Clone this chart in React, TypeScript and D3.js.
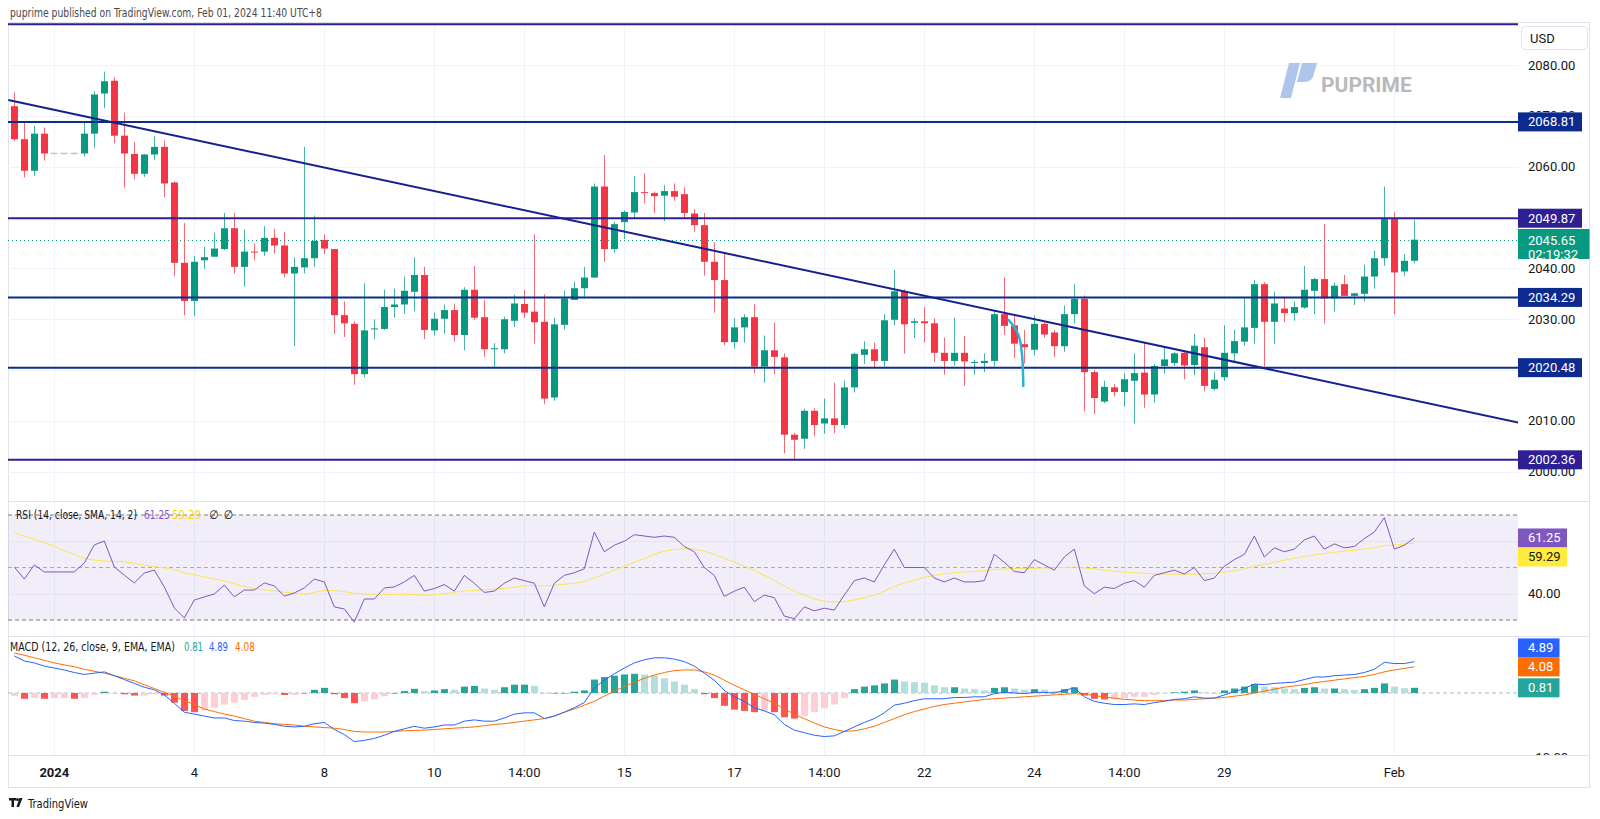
import React from 'react';
import * as d3 from 'd3';

// ---------- DATA (4H XAUUSD bars) ----------
const opens = [
2071.9,2065.4,2059.2,2066.5,2062.6,2062.6,2062.6,2062.6,2066.5,2074.4,
2076.9,2066.1,2062.5,2058.6,2062.4,2063.9,2056.9,2041.1,2033.6,2041.6,
2042.3,2043.8,2047.9,2040.3,2043.3,2043.3,2046.0,2044.5,2039.0,2040.2,
2042.0,2045.6,2043.8,2030.8,2029.1,2019.2,2028.1,2028.1,2032.4,2032.9,
2035.4,2038.7,2027.8,2030.1,2031.8,2026.9,2035.8,2030.4,2024.2,2024.1,
2029.7,2033.0,2031.5,2029.5,2014.6,2028.9,2033.8,2036.1,2038.2,2056.1,
2043.8,2049.1,2051.0,2055.0,2054.8,2054.3,2055.2,2054.6,2050.8,2048.5,
2041.3,2037.7,2025.5,2028.4,2030.4,2020.7,2023.9,2022.5,2007.3,2006.5,
2012.0,2009.5,2010.5,2009.2,2016.6,2023.0,2024.1,2021.8,2029.9,2035.5,
2029.3,2029.6,2029.2,2023.4,2021.8,2023.4,2021.4,2021.4,2021.8,2031.0,
2028.8,2025.1,2024.0,2029.1,2027.4,2024.7,2031.0,2034.0,2019.6,2013.8,
2016.6,2015.7,2017.9,2019.5,2015.2,2020.8,2021.4,2023.4,2021.0,2024.5,
2016.3,2018.6,2023.3,2025.6,2028.3,2036.9,2029.5,2032.1,2031.2,2032.3,
2035.6,2037.9,2034.1,2036.9,2034.6,2035.0,2038.4,2042.0,2049.7,2039.4,
2041.5];
const highs = [
2074.6,2068.8,2068.0,2067.7,2062.6,2062.6,2062.6,2068.9,2074.8,2078.7,
2077.6,2070.6,2064.9,2062.5,2066.0,2065.2,2057.1,2048.9,2042.5,2044.3,
2047.0,2050.9,2050.9,2047.7,2044.9,2048.3,2047.8,2047.2,2042.2,2063.9,
2050.4,2046.7,2043.8,2033.5,2029.6,2037.1,2030.0,2035.8,2036.0,2038.4,
2042.2,2040.3,2031.3,2032.9,2033.1,2036.3,2040.5,2033.8,2025.3,2030.5,
2034.8,2035.8,2046.7,2034.9,2030.3,2035.6,2037.4,2040.3,2056.7,2062.3,
2049.2,2051.4,2058.2,2058.7,2055.1,2056.4,2056.7,2055.9,2051.7,2050.9,
2045.1,2042.9,2030.2,2031.0,2033.0,2026.8,2029.3,2023.3,2007.6,2012.4,
2012.5,2014.4,2017.5,2018.0,2023.4,2025.7,2025.4,2031.0,2039.7,2035.9,
2030.2,2032.4,2030.2,2026.4,2030.3,2026.7,2022.0,2023.3,2031.8,2038.2,
2030.8,2027.9,2030.8,2029.7,2027.9,2032.7,2036.9,2034.7,2020.0,2017.9,
2017.3,2019.4,2023.3,2025.4,2021.2,2024.5,2023.6,2023.7,2027.1,2026.4,
2019.6,2028.8,2027.9,2034.1,2037.7,2037.3,2035.4,2034.2,2033.5,2040.5,
2038.2,2048.7,2037.2,2038.7,2035.2,2040.7,2043.5,2056.1,2051.0,2042.8,
2049.5];
const lows = [
2065.1,2057.9,2058.2,2061.2,2062.6,2062.6,2062.6,2062.0,2063.7,2071.5,
2064.6,2055.9,2057.5,2058.0,2061.3,2054.0,2038.5,2030.8,2030.6,2039.9,
2042.3,2043.6,2039.0,2036.4,2041.6,2042.5,2042.9,2038.2,2024.7,2039.0,
2040.3,2042.8,2027.1,2026.5,2017.1,2018.6,2026.1,2027.9,2030.3,2031.1,
2031.6,2026.1,2026.8,2027.2,2025.6,2023.9,2029.9,2022.6,2020.5,2023.3,
2028.5,2030.3,2025.2,2013.3,2014.0,2028.0,2033.8,2034.1,2038.2,2041.3,
2043.1,2045.8,2049.7,2052.8,2050.9,2049.3,2053.3,2049.7,2047.2,2038.6,
2031.3,2024.9,2024.2,2025.4,2019.4,2017.5,2019.2,2003.6,2002.3,2004.5,
2007.0,2007.5,2007.6,2008.5,2015.6,2021.2,2020.4,2020.7,2028.8,2023.2,
2026.3,2025.4,2021.6,2019.1,2020.9,2016.9,2019.1,2019.6,2020.7,2026.9,
2022.3,2021.3,2022.9,2026.4,2022.6,2023.6,2029.2,2011.9,2011.4,2013.5,
2014.8,2012.8,2009.5,2012.6,2013.6,2019.3,2020.8,2018.2,2019.0,2015.9,
2016.0,2017.9,2021.5,2024.8,2025.2,2020.7,2025.1,2029.4,2029.7,2032.1,
2031.0,2029.1,2031.5,2034.6,2032.8,2033.5,2036.0,2040.5,2031.0,2038.5,
2041.0];
const closes = [
2065.4,2059.2,2066.5,2062.6,2062.6,2062.6,2062.6,2066.5,2074.2,2076.8,
2066.1,2062.6,2058.6,2062.4,2063.9,2056.7,2041.1,2033.6,2041.3,2042.2,
2043.9,2047.9,2040.3,2043.3,2043.2,2046.0,2044.5,2039.0,2040.3,2042.0,
2045.4,2043.9,2030.8,2029.2,2019.2,2027.8,2028.2,2032.4,2032.9,2035.6,
2038.7,2027.9,2030.1,2031.8,2026.9,2035.8,2030.3,2024.1,2024.3,2030.0,
2033.1,2031.3,2029.4,2014.4,2029.0,2034.1,2036.1,2038.2,2056.1,2043.8,
2048.7,2051.1,2055.0,2054.9,2054.2,2055.2,2054.1,2050.9,2048.5,2041.3,
2037.7,2025.5,2028.4,2030.4,2020.7,2023.9,2022.6,2007.3,2006.3,2012.0,
2009.2,2010.5,2009.2,2016.6,2023.2,2024.1,2021.8,2029.8,2035.5,2029.0,
2029.6,2029.2,2023.4,2021.8,2023.4,2021.7,2021.6,2021.8,2031.0,2028.7,
2025.2,2024.5,2029.1,2027.0,2024.7,2031.0,2034.0,2019.6,2014.5,2016.7,
2015.7,2018.2,2019.4,2015.2,2020.8,2022.1,2023.3,2020.9,2024.8,2016.9,
2018.1,2023.4,2025.7,2028.4,2036.9,2029.5,2033.1,2031.2,2032.4,2035.8,
2037.9,2034.1,2036.6,2034.6,2035.1,2038.4,2042.0,2049.7,2039.2,2041.5,
2045.65];

const rsi = [
50.2,45.6,51.0,48.3,48.3,48.3,48.3,51.7,58.6,60.1,
50.2,47.1,44.1,47.9,49.0,42.6,34.6,30.8,37.6,38.8,
39.9,43.3,38.8,41.4,41.4,44.1,43.0,39.1,40.3,42.2,
45.6,44.5,35.0,34.2,29.2,38.0,38.0,42.2,42.6,44.5,
47,41,42,43.5,41,47,44,40.5,41,44,
46,45,44,35,44,47,48,49.5,63.5,56,
58.5,60,62.5,62,61.5,62,61.5,58,56,50,
47,39,41,42.5,37,39.5,38.5,31.5,30.5,35,
33.5,34.5,33.8,39.5,45,46,44.5,51,57,50,
50,50,46,44.5,46,44.5,44.5,45,55,52,
48.5,48,53,51,49,54,57,43,40,42.5,
42,44,45,42.5,47,48,49,47.5,50,45,
46,50.5,53,55,62,54,57.5,56,57,60.5,
62,57,59,57.5,58,61,63.5,69,57,58.5,
61.25];
const rsiSma = [
63.3,62,60.8,59.5,58.0,56.4,55,53.5,52.8,52.5,
52.3,52.2,51.6,50.8,50.3,49.9,49.2,48.0,47.2,46.5,
45.6,45.0,43.8,42.8,42.0,41.5,41.0,40.6,40.2,39.8,
40.5,41.3,41.2,40.8,40.2,39.9,39.8,39.8,39.7,39.8,
39.7,39.5,39.6,40.0,40.6,41.0,41.3,41.5,41.7,42.0,
42.5,43.0,43.2,43.0,43.3,43.6,44.0,44.6,46.0,47.5,
49.0,50.5,52.0,53.5,55.0,56.2,56.8,57.2,57.0,56.2,
55.0,53.5,52.0,50.5,48.8,47.0,45.0,43.0,41.0,39.5,
38.0,37.2,36.8,37.0,37.6,38.5,39.5,41.0,42.8,44.0,
45.2,46.2,47.0,47.6,48.0,48.3,48.5,48.8,49.2,49.5,
49.6,49.6,49.7,49.8,49.9,50.0,50.2,49.8,49.5,49.0,
48.6,48.3,48.0,47.8,47.6,47.5,47.5,47.4,47.5,47.6,
47.8,48.2,48.8,49.5,50.5,51.2,52.0,52.8,53.5,54.2,
54.8,55.3,55.8,56.2,56.6,57.0,57.5,58.3,58.6,58.9,
59.29];

const macd = [
5.8,5.0,4.7,4.2,3.9,3.6,3.2,2.9,3.1,3.3,
2.7,2.1,1.5,0.9,0.5,-0.3,-1.6,-3.0,-3.3,-3.6,
-3.9,-3.9,-4.3,-4.4,-4.6,-4.7,-4.9,-5.2,-5.3,-5.2,
-4.8,-4.6,-5.7,-6.5,-7.6,-7.4,-7.1,-6.6,-6.0,-5.6,
-5.2,-5.5,-5.3,-5.0,-5.0,-4.4,-4.2,-4.4,-4.4,-3.9,
-3.3,-3.1,-3.1,-4.0,-3.6,-3.0,-2.3,-1.5,0.8,2.0,
3.0,3.9,4.7,5.2,5.5,5.5,5.3,4.9,4.2,3.1,
2.0,0.4,-0.6,-1.3,-2.3,-2.8,-3.4,-4.9,-5.8,-6.2,
-6.6,-6.8,-6.7,-6.0,-5.3,-4.6,-4.0,-3.1,-1.9,-1.6,
-1.2,-0.9,-0.9,-0.9,-0.7,-0.7,-0.6,-0.6,-0.1,0.1,
0.0,-0.1,0.1,0.1,0.0,0.4,0.8,-0.6,-1.3,-1.6,
-1.8,-1.8,-1.7,-1.8,-1.5,-1.3,-1.0,-0.9,-0.6,-0.8,
-0.8,-0.3,0.2,0.7,1.4,1.3,1.5,1.6,1.7,2.1,
2.5,2.5,2.7,2.8,2.9,3.2,3.7,4.8,4.6,4.6,
4.89];
const signal = [
6.25,5.9,5.5,5.1,4.7,4.4,4.1,3.7,3.4,3.1,
2.7,2.3,1.9,1.3,0.7,0.1,-0.5,-1.2,-1.8,-2.5,
-2.9,-3.3,-3.6,-4.0,-4.4,-4.6,-4.8,-4.9,-5.0,-5.2,
-5.3,-5.4,-5.5,-5.7,-6.0,-6.1,-6.1,-6.1,-6.0,-5.9,
-5.85,-5.8,-5.7,-5.6,-5.5,-5.4,-5.3,-5.1,-4.9,-4.8,
-4.6,-4.4,-4.2,-4.0,-3.6,-3.0,-2.5,-1.9,-1.3,-0.5,
0.3,1.0,1.7,2.3,2.8,3.2,3.5,3.6,3.6,3.3,
2.8,2.0,1.2,0.5,-0.2,-0.9,-1.6,-2.5,-3.3,-4.0,
-4.7,-5.3,-5.7,-6.0,-5.9,-5.6,-5.2,-4.6,-4.0,-3.4,
-2.9,-2.5,-2.1,-1.8,-1.6,-1.4,-1.2,-1.0,-0.9,-0.8,
-0.7,-0.6,-0.5,-0.4,-0.3,-0.2,-0.1,-0.2,-0.4,-0.6,
-0.8,-1.0,-1.1,-1.2,-1.2,-1.2,-1.1,-1.1,-1.0,-0.9,
-0.8,-0.7,-0.5,-0.3,0.0,0.3,0.6,0.9,1.1,1.3,
1.6,1.8,2.0,2.2,2.4,2.6,2.9,3.3,3.6,3.85,
4.08];
const hist = [
-0.45,-0.9,-0.8,-0.9,-0.8,-0.8,-0.9,-0.8,-0.3,0.2,
0.0,-0.2,-0.4,-0.4,-0.2,-0.4,-1.5,-2.8,-3.0,-2.7,
-2.3,-1.8,-1.5,-1.1,-0.6,-0.3,-0.2,-0.3,-0.3,0.0,
0.5,0.8,-0.2,-0.8,-1.6,-1.3,-1.0,-0.5,0.0,0.3,
0.65,0.3,0.4,0.6,0.5,1.0,1.1,0.7,0.5,0.9,
1.3,1.3,1.1,0.0,0.0,0.0,0.2,0.4,2.1,2.5,
2.7,2.9,3.0,2.9,2.7,2.3,1.8,1.3,0.6,-0.2,
-0.8,-2.0,-2.6,-2.8,-3.0,-2.8,-3.0,-3.8,-4.0,-3.6,
-3.0,-2.4,-1.8,-0.8,0.6,1.0,1.2,1.5,2.1,1.8,
1.7,1.6,1.2,0.9,0.9,0.7,0.6,0.4,0.8,0.9,
0.7,0.5,0.6,0.5,0.3,0.6,0.9,-0.4,-0.9,-1.0,
-1.0,-0.8,-0.6,-0.6,-0.3,-0.1,0.1,0.2,0.4,0.1,
0.0,0.4,0.7,1.0,1.4,1.0,0.9,0.7,0.6,0.8,
0.9,0.7,0.7,0.6,0.5,0.6,0.8,1.5,1.0,0.75,
0.81];

// time axis ticks (bar index -> label)
const tickIdx = [4, 18, 31, 42, 51, 61, 72, 81, 91, 102, 111, 121, 138];
const tickLabels = ['2024', '4', '8', '10', '14:00', '15', '17', '14:00', '22', '24', '14:00', '29', 'Feb'];
const boldTicks = ['2024'];

// price scale: grid levels and the labels left visible
const priceTicks = [2080, 2070, 2060, 2050, 2040, 2030, 2020, 2010, 2000];
const priceLabelTicks = [2080, 2060, 2040, 2030, 2010, 2000];
const partlyHiddenTicks = [2070];
const rsiTicks = [60, 40];
const rsiLabelTicks = [40];
const macdLabelTicks = [-10];

// drawn horizontal levels
const levels = [2088.0, 2068.81, 2049.87, 2034.29, 2020.48, 2002.36];
const levelLabelled = [false, true, true, true, true, true];
const levelTone = ['violet', 'navy', 'violet', 'navy', 'navy', 'violet'];

// drawn trend line: [bar index, price]
const trendStart = [-0.6, 2073.1];
const trendEnd = [150.4, 2009.7];

// cyan curve annotation: [bar index, price]
const curvePts = [[99.4, 2029.9], [100.8, 2026.9], [100.9, 2016.9]];

const lastPrice = 2045.65;
const countdown = '02:19:32';
const rsiLast = 61.25, smaLast = 59.29;
const macdLast = 4.89, signalLast = 4.08, histLast = 0.81;

// ---------- RENDER ----------
const UP = '#089981';
const DOWN = '#f23645';
const FONT = "Roboto, 'Noto Sans', Arial, sans-serif";
const NARROW = "'Liberation Sans Narrow', 'Arial Narrow', 'DejaVu Sans Condensed', Roboto, sans-serif";
const TONE: Record<string, string> = { navy: '#0d2b8e', violet: '#2e1f92' };

export default function App() {
  const L = 8, R = 1518;
  const x = d3.scaleLinear().domain([0, 140]).range([14.3, 1414.3]);
  const yP = d3.scaleLinear().domain([2000, 2080]).range([471.8, 65]);
  const yR = d3.scaleLinear().domain([30, 70]).range([620, 515]);
  const yM = d3.scaleLinear().domain([-10, 0]).range([757, 693]);
  const idx = d3.range(opens.length);

  const rsiLine = d3.line<number>().x((_, i) => x(i)).y(d => yR(d));
  const macdLine = d3.line<number>().x((_, i) => x(i)).y(d => yM(d));
  const curve = d3.line<number[]>().x(d => x(d[0])).y(d => yP(d[1])).curve(d3.curveBasis);

  const boxW = (s: string) => 7.5 * s.length + 11.5;
  const axisText = { fontFamily: FONT, fontSize: 13, fill: '#131722' };
  const legText = { fontFamily: NARROW, fontSize: 12, fill: '#131722' };
  const fit = { lengthAdjust: 'spacingAndGlyphs' } as any;

  const priceBox = (cy: number, fill: string, txt: string, tc = '#fff', key?: string) => (
    <g key={key}>
      <rect x={R} y={cy - 9.5} width={boxW(txt)} height={19} fill={fill} />
      <text x={R + 10} y={cy} dominantBaseline="central" style={{ ...axisText, fill: tc }}>{txt}</text>
    </g>
  );

  return (
    <svg width={1600} height={819} style={{ position: 'absolute', left: 0, top: 0, background: '#fff' }}>
      <defs>
        <clipPath id="cMain"><rect x={L} y={22} width={R - L} height={479} /></clipPath>
        <clipPath id="cRsi"><rect x={L} y={501} width={R - L} height={135} /></clipPath>
        <clipPath id="cMacd"><rect x={L} y={636} width={R - L} height={119} /></clipPath>
        <clipPath id="cMacdAxis"><rect x={R} y={636} width={80} height={119} /></clipPath>
        <clipPath id="cAbove2068"><rect x={R} y={100} width={80} height={yP(2068.81) - 9.5 - 100} /></clipPath>
      </defs>
      <rect width={1600} height={819} fill="#fff" />

      {/* header */}
      <text x={10} y={17} textLength={312} {...fit}
        style={{ fontFamily: NARROW, fontSize: 12.5, fill: '#4a4a4a' }}>
        puprime published on TradingView.com, Feb 01, 2024 11:40 UTC+8
      </text>

      {/* container */}
      <rect x={8.5} y={22.5} width={1581} height={765} fill="none" stroke="#e0e3eb" />

      {/* vertical grid */}
      {tickIdx.map((t, k) => (
        <line key={'vg' + k} x1={Math.round(x(t)) + 0.5} x2={Math.round(x(t)) + 0.5} y1={23} y2={755} stroke="#f0f3fa" />
      ))}
      {/* horizontal grid main */}
      {priceTicks.map((p, k) => (
        <line key={'hg' + k} x1={L} x2={R} y1={Math.round(yP(p)) + 0.5} y2={Math.round(yP(p)) + 0.5} stroke="#f0f3fa" />
      ))}

      {/* pane separators */}
      <line x1={L} x2={1590} y1={501.5} y2={501.5} stroke="#e0e3eb" />
      <line x1={L} x2={1590} y1={636.5} y2={636.5} stroke="#e0e3eb" />
      <line x1={L} x2={1590} y1={755.5} y2={755.5} stroke="#e0e3eb" />

      {/* watermark logo */}
      <g>
        <path d="M1280,98 L1291,98 L1300,63 L1289,63 Z" fill="#aec5ec" />
        <path d="M1302,63 L1317,63 L1313,77 Q1311,82 1303,82 L1297,82 Z" fill="#aec5ec" />
        <text x={1321} y={92} style={{ fontFamily: FONT, fontSize: 21, fontWeight: 700, fill: '#b9b9b9' }}>PUPRIME</text>
      </g>

      {/* main pane */}
      <g clipPath="url(#cMain)">
        <line x1={L} x2={R} y1={Math.round(yP(lastPrice)) + 0.5} y2={Math.round(yP(lastPrice)) + 0.5}
          stroke={UP} strokeDasharray="1,3" />
        {idx.map(i => {
          const o = opens[i], c = closes[i], h = highs[i], l = lows[i];
          const cx = Math.round(x(i));
          if (h === l) {
            return <line key={'c' + i} x1={cx - 3.5} x2={cx + 3.5} y1={yP(c)} y2={yP(c)} stroke="#a9cfc5" strokeWidth={1.5} />;
          }
          const col = c >= o ? UP : DOWN;
          const yt = yP(Math.max(o, c));
          const hb = Math.max(1, Math.abs(yP(o) - yP(c)));
          return (
            <g key={'c' + i}>
              <line x1={cx + 0.5} x2={cx + 0.5} y1={yP(h)} y2={yP(l)} stroke={col} strokeOpacity={0.75} />
              <rect x={cx - 3} y={yt} width={7} height={hb} fill={col} />
            </g>
          );
        })}
        {levels.map((p, k) => (
          <line key={'lv' + k} x1={L} x2={R} y1={yP(p)} y2={yP(p)} stroke={TONE[levelTone[k]]} strokeWidth={2} />
        ))}
        <line x1={x(trendStart[0])} y1={yP(trendStart[1])} x2={x(trendEnd[0])} y2={yP(trendEnd[1])}
          stroke="#14208f" strokeWidth={2} />
        <path d={curve(curvePts) || ''} fill="none" stroke="#26b3d4" strokeWidth={2.5} strokeLinecap="round" />
      </g>

      {/* RSI pane */}
      <g clipPath="url(#cRsi)">
        <rect x={L} y={yR(70)} width={R - L} height={yR(30) - yR(70)} fill="#7e57c2" fillOpacity={0.1} />
        {rsiTicks.map((t, k) => (
          <line key={'rg' + k} x1={L} x2={R} y1={Math.round(yR(t)) + 0.5} y2={Math.round(yR(t)) + 0.5} stroke="#e6e2ef" />
        ))}
        <line x1={L} x2={R} y1={yR(70)} y2={yR(70)} stroke="#787b86" strokeDasharray="4,3" />
        <line x1={L} x2={R} y1={yR(50)} y2={yR(50)} stroke="#a8abb4" strokeDasharray="4,3" />
        <line x1={L} x2={R} y1={yR(30)} y2={yR(30)} stroke="#787b86" strokeDasharray="4,3" />
        <path d={rsiLine(rsiSma) || ''} fill="none" stroke="#ffe44d" strokeWidth={1} />
        <path d={rsiLine(rsi) || ''} fill="none" stroke="#7e57c2" strokeWidth={1} />
      </g>
      <text x={16} y={515} dominantBaseline="central" style={legText}>
        <tspan textLength={121} {...fit}>RSI (14, close, SMA, 14, 2)</tspan>
        <tspan dx={7} textLength={26} {...fit} fill="#7e57c2">{rsiLast.toFixed(2)}</tspan>
        <tspan dx={2} textLength={29} {...fit} fill="#f5d800">{smaLast.toFixed(2)}</tspan>
        <tspan dx={8}>∅</tspan>
        <tspan dx={5}>∅</tspan>
      </text>

      {/* MACD pane */}
      <g clipPath="url(#cMacd)">
        <line x1={L} x2={R} y1={yM(0)} y2={yM(0)} stroke="#b2b5be" strokeDasharray="4,3" />
        {idx.map(i => {
          const h = hist[i];
          const prev = i > 0 ? hist[i - 1] : h;
          const col = h >= 0 ? (h >= prev ? '#26a69a' : '#b2dfdb') : (h < prev ? '#ff5252' : '#ffcdd2');
          const y0 = yM(0), y1 = yM(h);
          const cx = Math.round(x(i));
          return <rect key={'h' + i} x={cx - 3} y={Math.min(y0, y1)} width={7} height={Math.max(0.5, Math.abs(y1 - y0))} fill={col} />;
        })}
        <path d={macdLine(signal) || ''} fill="none" stroke="#ff6d00" strokeWidth={1} />
        <path d={macdLine(macd) || ''} fill="none" stroke="#2962ff" strokeWidth={1} />
      </g>
      <text x={10} y={647} dominantBaseline="central" style={legText}>
        <tspan textLength={165} {...fit}>MACD (12, 26, close, 9, EMA, EMA)</tspan>
        <tspan dx={9} textLength={19} {...fit} fill="#26a69a">{histLast.toFixed(2)}</tspan>
        <tspan dx={6} textLength={19} {...fit} fill="#2962ff">{macdLast.toFixed(2)}</tspan>
        <tspan dx={7} textLength={20} {...fit} fill="#ff6d00">{signalLast.toFixed(2)}</tspan>
      </text>

      {/* price axis */}
      <g>
        <rect x={1521.5} y={26.5} width={66} height={23} rx={4} fill="#fff" stroke="#e0e3eb" />
        <text x={1530} y={38} dominantBaseline="central" style={axisText}>USD</text>
        {priceLabelTicks.map((p, k) => (
          <text key={'pt' + k} x={R + 10} y={yP(p)} dominantBaseline="central" style={axisText}>{p.toFixed(2)}</text>
        ))}
        <g clipPath="url(#cAbove2068)">
          {partlyHiddenTicks.map((p, k) => (
            <text key={'ph' + k} x={R + 10} y={yP(p)} dominantBaseline="central" style={axisText}>{p.toFixed(2)}</text>
          ))}
        </g>
        {levels.map((p, k) => levelLabelled[k] ? priceBox(yP(p), TONE[levelTone[k]], p.toFixed(2), '#fff', 'lb' + k) : null)}
        <rect x={R} y={229} width={boxW(countdown)} height={30} fill={UP} />
        <text x={R + 10} y={240} dominantBaseline="central" style={{ ...axisText, fill: '#fff' }}>{lastPrice.toFixed(2)}</text>
        <text x={R + 10} y={254} dominantBaseline="central" style={{ ...axisText, fill: '#fff' }}>{countdown}</text>

        {rsiLabelTicks.map((t, k) => (
          <text key={'rt' + k} x={R + 10} y={yR(t)} dominantBaseline="central" style={axisText}>{t.toFixed(2)}</text>
        ))}
        {priceBox(yR(rsiLast), '#7e57c2', rsiLast.toFixed(2))}
        {priceBox(yR(rsiLast) + 19, '#ffeb3b', smaLast.toFixed(2), '#131722')}

        <g clipPath="url(#cMacdAxis)">
          {macdLabelTicks.map((t, k) => (
            <text key={'mt' + k} x={R + 10} y={yM(t)} dominantBaseline="central" style={axisText}>{'\u2212' + Math.abs(t).toFixed(2)}</text>
          ))}
        </g>
        {priceBox(yM(histLast), '#26a69a', histLast.toFixed(2))}
        {priceBox(yM(signalLast), '#ff6d00', signalLast.toFixed(2))}
        {priceBox(yM(signalLast) - 19, '#2962ff', macdLast.toFixed(2))}
      </g>

      {/* time axis */}
      {tickIdx.map((t, k) => (
        <text key={'tl' + k} x={x(t)} y={772} textAnchor="middle" dominantBaseline="central"
          style={{ ...axisText, fontWeight: boldTicks.includes(tickLabels[k]) ? 700 : 400 }}>{tickLabels[k]}</text>
      ))}

      {/* footer logo */}
      <g fill="#131722">
        <rect x={9} y={798} width={7} height={2.5} />
        <rect x={11.5} y={798} width={2.5} height={9} />
        <circle cx={17.5} cy={799.5} r={1.5} />
        <path d="M19.5,798 L22.5,798 L19,807 L16.5,807 Z" />
        <text x={28} y={803} dominantBaseline="central" textLength={60} {...fit}
          style={{ fontFamily: NARROW, fontSize: 12.5, fill: '#131722' }}>TradingView</text>
      </g>
    </svg>
  );
}
